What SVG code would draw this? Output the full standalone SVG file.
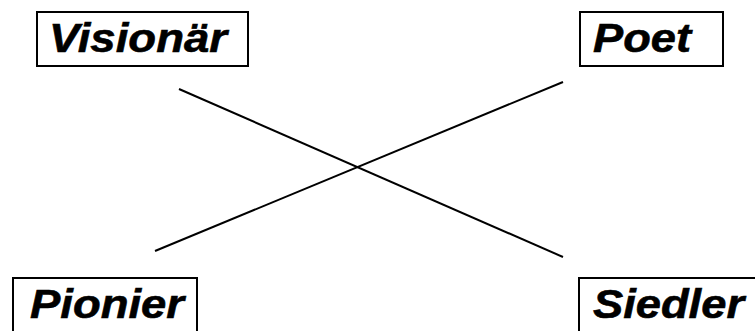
<svg xmlns="http://www.w3.org/2000/svg" width="755" height="331" viewBox="0 0 755 331">
<style>
.box{fill:#fff;stroke:#000;stroke-width:2}
.lbl{font-family:"Liberation Sans",Arial,sans-serif;font-weight:bold;font-style:italic;font-size:41px;fill:#000;stroke:#000;stroke-width:0.6}
.edge{stroke:#000;stroke-width:2;fill:none}
</style>
<rect width="755" height="331" fill="#fff"/>
<g id="connectors">
<line class="edge" x1="179" y1="89" x2="563" y2="257"/>
<line class="edge" x1="563" y1="82" x2="155" y2="251"/>
</g>
<g id="visionaer">
<rect class="box" x="37" y="12" width="211" height="54"/>
<text class="lbl" x="49" y="52" textLength="178" lengthAdjust="spacingAndGlyphs">Visionär</text>
</g>
<g id="poet">
<rect class="box" x="580" y="12" width="143" height="54"/>
<text class="lbl" x="593" y="52" textLength="98" lengthAdjust="spacingAndGlyphs">Poet</text>
</g>
<g id="pionier">
<rect class="box" x="13" y="278" width="184" height="70"/>
<text class="lbl" x="30" y="318" textLength="154" lengthAdjust="spacingAndGlyphs">Pionier</text>
</g>
<g id="siedler">
<rect class="box" x="579" y="278" width="200" height="70"/>
<text class="lbl" x="593" y="318" textLength="151" lengthAdjust="spacingAndGlyphs">Siedler</text>
</g>
</svg>
